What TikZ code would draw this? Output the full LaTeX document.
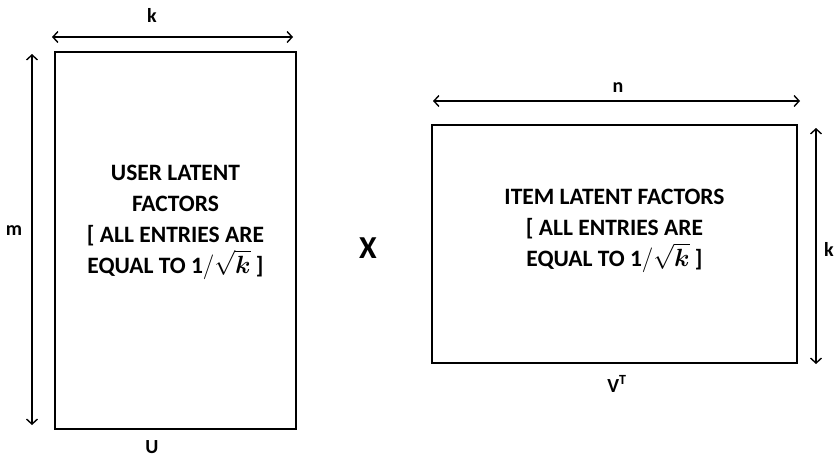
\documentclass[tikz,border=0pt]{standalone}
\usepackage{amsmath}
\usepackage{fontspec}
\setmainfont{Carlito}
\usetikzlibrary{arrows.meta}

\begin{document}
\begin{tikzpicture}[x=1pt, y=-1pt,
                    every node/.style={font=\bfseries\fontsize{23.5}{31}\selectfont, align=center},
                    matbox/.style={draw, line width=2.6pt, inner sep=0pt},
                    dim/.style={{Straight Barb[length=5pt,width=11pt]}-{Straight Barb[length=5pt,width=11pt]}, line width=1.4pt},
                    lbl/.style={font=\bfseries\fontsize{20}{22}\selectfont}]

\useasboundingbox (0,0) rectangle (835,461);

% Left matrix U
\node[matbox, minimum width=241pt, minimum height=377pt] (U) at (175.5,240.5) {};
\node (Utext) at (175.5,222) {USER LATENT\\FACTORS\\{}[ ALL ENTRIES ARE\\EQUAL TO $\mathbf{1}/\sqrt{\boldsymbol{k}}$ ]};
\node[lbl] (Ulbl) at (152,447) {U};

\coordinate (kA) at (52,37);
\coordinate (kB) at (293,37);
\draw[dim] (kA) -- (kB);
\node[lbl] (klbl) at (152,15) {k};

\coordinate (mA) at (32,54);
\coordinate (mB) at (32,425);
\draw[dim] (mA) -- (mB);
\node[lbl] (mlbl) at (14,231) {m};

% times sign
\node[font=\bfseries\fontsize{32}{34}\selectfont] (times) at (368,248) {X};

% Right matrix V^T
\node[matbox, minimum width=365pt, minimum height=238pt] (V) at (614.5,244) {};
\node (Vtext) at (614.5,231) {ITEM LATENT FACTORS\\{}[ ALL ENTRIES ARE\\EQUAL TO $\mathbf{1}/\sqrt{\boldsymbol{k}}$ ]};
\node[lbl] (Vlbl) at (617,384) {V\textsuperscript{T}};

\coordinate (nA) at (433,101);
\coordinate (nB) at (800,101);
\draw[dim] (nA) -- (nB);
\node[lbl] (nlbl) at (618,88) {n};

\coordinate (kC) at (816,128);
\coordinate (kD) at (816,364);
\draw[dim] (kC) -- (kD);
\node[lbl] (k2lbl) at (829,249) {k};

\end{tikzpicture}
\end{document}
